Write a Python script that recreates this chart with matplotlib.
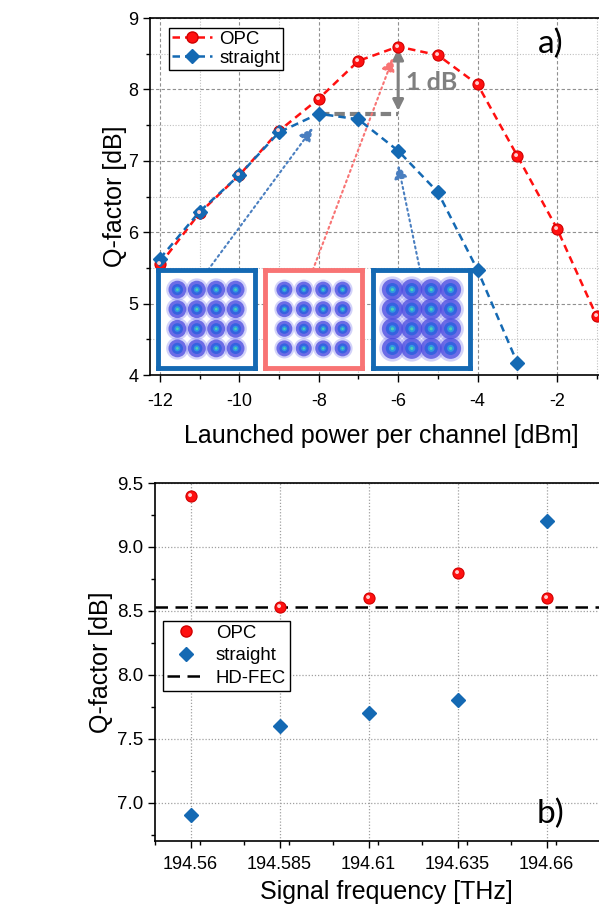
import numpy as np
import matplotlib.pyplot as plt
from matplotlib.markers import MarkerStyle
from matplotlib.transforms import Affine2D
from matplotlib.ticker import MultipleLocator, FixedLocator

plt.rcParams['font.family'] = ['Liberation Sans', 'DejaVu Sans']
plt.rcParams['axes.unicode_minus'] = False

# (a) Q-factor versus launched power
power = [-12, -11, -10, -9, -8, -7, -6, -5, -4, -3, -2, -1]
q_opc = [5.55, 6.27, 6.80, 7.42, 7.87, 8.40, 8.60, 8.48, 8.07, 7.07, 6.05, 4.82]
power_straight = [-12, -11, -10, -9, -8, -7, -6, -5, -4, -3]
q_straight = [5.63, 6.29, 6.80, 7.40, 7.66, 7.58, 7.14, 6.56, 5.47, 4.17]

# (b) Q-factor versus signal frequency
freq = [194.56, 194.585, 194.61, 194.635, 194.66]
freq_labels = ['194.56', '194.585', '194.61', '194.635', '194.66']
qf_opc = [9.40, 8.53, 8.60, 8.80, 8.60]
qf_straight = [6.90, 7.60, 7.70, 7.80, 9.20]
hd_fec = 8.53

# constellation insets: 16-QAM levels and cluster spread per inset
qam_levels = [-3, -1, 1, 3]
inset_spread = [0.95, 0.85, 1.12]
inset_edge = ['#1469b3', '#f87474', '#1469b3']

RED = '#ff1010'
BLUE = '#1469b3'
highlight = MarkerStyle('o', transform=Affine2D().scale(0.35).translate(-0.13, 0.13))


def sphere(axis, x, y, ms, **kw):
    axis.plot(x, y, linestyle='none', marker='o', markersize=ms,
              markerfacecolor=RED, markeredgecolor='#d00000', markeredgewidth=0.8,
              zorder=4, **kw)
    axis.plot(x, y, linestyle='none', marker=highlight, markersize=ms,
              markerfacecolor='#ffd0d0', markeredgecolor='none', zorder=5)


fig = plt.figure(figsize=(5.99, 9.10), dpi=100)

# ---------------- panel a ----------------
ax = fig.add_axes([0.2504, 0.5879, 0.7723, 0.3923])
ax.set_xlim(-12.25, -0.6)
ax.set_ylim(4, 9)
ax.xaxis.set_major_locator(MultipleLocator(2))
ax.xaxis.set_minor_locator(MultipleLocator(1))
ax.yaxis.set_major_locator(MultipleLocator(1))
ax.yaxis.set_minor_locator(MultipleLocator(0.5))
ax.grid(which='major', color='#909090', linestyle=(0, (3, 2)), linewidth=0.8)
ax.grid(which='minor', color='#c0c0c0', linestyle=(0, (1, 1.5)), linewidth=0.8)
ax.set_axisbelow(True)
ax.tick_params(which='major', direction='out', length=5, width=1, labelsize=13)
ax.tick_params(which='minor', direction='out', length=3, width=1)
ax.tick_params(axis='x', pad=8)
for s in ax.spines.values():
    s.set_linewidth(1.2)

ax.plot(power, q_opc, linestyle=(0, (3, 2)), color=RED, linewidth=1.8, zorder=3)
sphere(ax, power, q_opc, 8)
straight_line = ax.plot(power_straight, q_straight, linestyle=(0, (3, 2)), color=BLUE,
                        linewidth=1.8, marker='D', markersize=7, markerfacecolor=BLUE,
                        markeredgecolor=BLUE, zorder=4)[0]

ax.set_xlabel('Launched power per channel [dBm]', fontsize=18, labelpad=10)
ax.set_ylabel('Q-factor [dB]', fontsize=18)
ax.yaxis.set_label_coords(-0.0497, 0.5)

opc_handle = ax.plot([], [], linestyle=(0, (3, 2)), color=RED, linewidth=1.8,
                     marker='o', markersize=8, markerfacecolor=RED,
                     markeredgecolor='#d00000')[0]
leg = ax.legend([opc_handle, straight_line], ['OPC', 'straight'],
                loc='upper left', bbox_to_anchor=(0.041, 0.972), borderaxespad=0,
                fontsize=13.4, frameon=True, fancybox=False,
                edgecolor='black', framealpha=1, handlelength=2.15,
                handletextpad=0.4, borderpad=0.15, labelspacing=0.1)
leg.get_frame().set_linewidth(1)

# 1 dB annotation
ax.plot([power[4], power[6]], [q_straight[4], q_straight[4]], color='#808080',
        linestyle=(0, (2.5, 1.2)), linewidth=3, zorder=3)
ax.annotate('', xy=(-6, 8.57), xytext=(-6, 7.7),
            arrowprops=dict(arrowstyle='<|-|>', color='#808080', lw=2.2,
                            mutation_scale=16, shrinkA=0, shrinkB=0), zorder=3)
ax.text(-5.8, 8.1, '1 dB', fontsize=18, fontweight='bold', color='#808080',
        family='Lato', va='center', ha='left')
ax.text(-2.47, 8.64, 'a)', fontsize=24, family='Lato', va='center', ha='left')

# arrows from insets to points
arrow_specs = [((-10.79, 5.47), (-8.15, 7.46), '#4a7fc0'),
               ((-8.15, 5.47), (-6.13, 8.44), '#f87474'),
               ((-5.45, 5.47), (-6.0, 6.94), '#4a7fc0')]
for tail, head, c in arrow_specs:
    ax.annotate('', xy=head, xytext=tail,
                arrowprops=dict(arrowstyle='-|>', color=c, lw=1.5, linestyle=':',
                                mutation_scale=20, shrinkA=0, shrinkB=0), zorder=3)

# constellation insets
inset_left = [158, 265, 373]
for left, spread, ec in zip(inset_left, inset_spread, inset_edge):
    iax = fig.add_axes([left / 599, (910 - 368) / 910, 97 / 599, 98 / 910])
    iax.set_xlim(-5, 5)
    iax.set_ylim(-5, 5)
    iax.set_xticks([])
    iax.set_yticks([])
    iax.set_facecolor('white')
    for s in iax.spines.values():
        s.set_edgecolor(ec)
        s.set_linewidth(3.5)
    gx, gy = np.meshgrid(qam_levels, qam_levels)
    iax.scatter(gx.ravel(), gy.ravel(), s=(spread * 17) ** 2, color='#8080f0',
                alpha=0.35, edgecolors='none')
    iax.scatter(gx.ravel(), gy.ravel(), s=(spread * 13.5) ** 2, color='#4a4ae0',
                alpha=0.75, edgecolors='none')
    iax.scatter(gx.ravel(), gy.ravel(), s=(spread * 8.5) ** 2, color='#3060e0',
                alpha=0.9, edgecolors='none')
    iax.scatter(gx.ravel(), gy.ravel(), s=(spread * 4.5) ** 2, color='#2fa0e0',
                alpha=0.9, edgecolors='none')
    iax.scatter(gx.ravel(), gy.ravel(), s=(spread * 2) ** 2, color='#50d8b0',
                alpha=0.9, edgecolors='none')

# ---------------- panel b ----------------
bx = fig.add_axes([0.2588, 0.0758, 0.7726, 0.3934])
bx.set_xlim(194.55, 194.68)
bx.set_ylim(6.7, 9.5)
bx.xaxis.set_major_locator(FixedLocator(freq))
bx.set_xticklabels(freq_labels)
bx.xaxis.set_minor_locator(MultipleLocator(0.0125))
bx.yaxis.set_major_locator(MultipleLocator(0.5))
bx.yaxis.set_minor_locator(MultipleLocator(0.25))
bx.yaxis.set_major_formatter(plt.FormatStrFormatter('%.1f'))
bx.grid(which='major', color='#a0a0a0', linestyle=(0, (1, 1.5)), linewidth=0.9)
bx.set_axisbelow(True)
bx.tick_params(which='major', direction='out', length=5, width=1, labelsize=13)
bx.tick_params(which='minor', direction='out', length=3, width=1)
bx.tick_params(axis='y', labelsize=13.5)
bx.tick_params(axis='x', pad=6)
for s in bx.spines.values():
    s.set_linewidth(1.2)

fec_line = bx.axhline(hd_fec, color='black', linestyle=(0, (5, 3)), linewidth=1.8, zorder=2)
sphere(bx, freq, qf_opc, 8)
straight_pts = bx.plot(freq, qf_straight, linestyle='none', marker='D', markersize=7,
                       markerfacecolor=BLUE, markeredgecolor=BLUE, zorder=4)[0]
opc_pts = bx.plot([], [], linestyle='none', marker='o', markersize=8,
                  markerfacecolor=RED, markeredgecolor='#d00000')[0]

leg2 = bx.legend([opc_pts, straight_pts, fec_line], ['OPC', 'straight', 'HD-FEC'],
                 loc='upper left', bbox_to_anchor=(0.017, 0.615), borderaxespad=0,
                 fontsize=13.4, frameon=True, fancybox=False, edgecolor='black',
                 framealpha=1, handlelength=2.1, handletextpad=0.55,
                 borderpad=0.2, labelspacing=0.3)
leg2.get_frame().set_linewidth(1)

bx.set_xlabel('Signal frequency [THz]', fontsize=18, labelpad=5)
bx.set_ylabel('Q-factor [dB]', fontsize=18)
bx.yaxis.set_label_coords(-0.0907, 0.5)
bx.text(194.6572, 6.91, 'b)', fontsize=24, family='Lato', va='center', ha='left')

fig.savefig('out.png', dpi=100)
